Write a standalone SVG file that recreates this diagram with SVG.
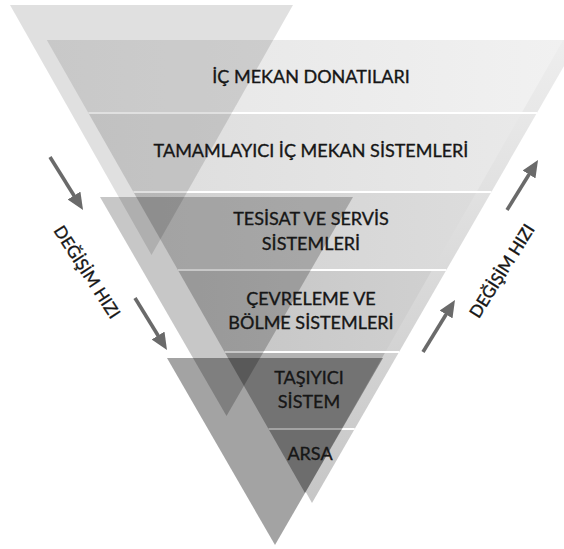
<svg xmlns="http://www.w3.org/2000/svg" width="564" height="549" viewBox="0 0 564 549">
<style>
  .lbl { font-family: Lato, "Open Sans", "DejaVu Sans", sans-serif; font-size: 18px; fill: #161616; stroke: #161616; stroke-width: 0.35; text-anchor: middle; }
  .side { font-family: Lato, "Open Sans", "DejaVu Sans", sans-serif; font-size: 17px; fill: #161616; stroke: #161616; stroke-width: 0.35; text-anchor: middle; }
  .sep { stroke: #ffffff; stroke-width: 2.2; }
  .arr { stroke: #6a6a6a; stroke-width: 3.6; fill: none; marker-end: url(#head); }
</style>
<defs>
  <marker id="head" markerUnits="userSpaceOnUse" viewBox="0 0 17 15" refX="9" refY="7.5" markerWidth="17" markerHeight="15" orient="auto">
    <path d="M0,0 L17,7.5 L0,15 z" fill="#6a6a6a"/>
  </marker>
  <linearGradient id="gR" x1="0" y1="0" x2="0" y2="1">
    <stop offset="0" stop-color="#eeeeee"/><stop offset="1" stop-color="#c6c6c6"/>
  </linearGradient>
  <linearGradient id="g1" x1="0" y1="0" x2="1" y2="0"><stop offset="0" stop-color="#e4e4e4"/><stop offset="1" stop-color="#f1f1f1"/></linearGradient>
  <linearGradient id="g2" x1="0" y1="0" x2="1" y2="0"><stop offset="0" stop-color="#dcdcdc"/><stop offset="1" stop-color="#e9e9e9"/></linearGradient>
  <linearGradient id="g3" x1="0" y1="0" x2="1" y2="0"><stop offset="0" stop-color="#d0d0d0"/><stop offset="1" stop-color="#dcdcdc"/></linearGradient>
  <linearGradient id="g4" x1="0" y1="0" x2="1" y2="0"><stop offset="0" stop-color="#c4c4c4"/><stop offset="1" stop-color="#d0d0d0"/></linearGradient>
</defs>
<rect width="564" height="549" fill="#ffffff"/>

<g id="back-triangle">
  <polygon points="52,40 579,40 312,503" fill="url(#gR)"/>
</g>

<g id="bands">
  <polygon id="band1" points="46.8,40 563.2,40 521.6,113 88.4,113" fill="url(#g1)"/>
  <polygon id="band2" points="88.4,113 521.6,113 476.6,192 133.4,192" fill="url(#g2)"/>
  <polygon id="band3" points="133.4,192 476.6,192 432.1,270 177.9,270" fill="url(#g3)"/>
  <polygon id="band4" points="177.9,270 432.1,270 385.4,352 224.6,352" fill="url(#g4)"/>
  <polygon id="band5" points="224.6,352 385.4,352 341.5,429 268.5,429" fill="#b4b4b4"/>
  <polygon id="band6" points="268.5,429 341.5,429 305,493" fill="#ababab"/>
  <line class="sep" x1="88.4" y1="113" x2="537" y2="113"/>
  <line class="sep" x1="133.4" y1="192" x2="491.4" y2="192"/>
  <line class="sep" x1="177.9" y1="270" x2="446.4" y2="270"/>
  <line class="sep" x1="224.6" y1="352" x2="399.1" y2="352"/>
  <line class="sep" x1="268.5" y1="429" x2="354.7" y2="429"/>
</g>

<g id="overlay-triangles">
  <polygon id="tri-a" points="10,5 293,5 151.5,255" fill="#000000" fill-opacity="0.12"/>
  <polygon id="tri-c" points="100,197 353,197 226.5,416" fill="#000000" fill-opacity="0.22"/>
  <polygon id="tri-d" points="167,358 383,358 275,545" fill="#000000" fill-opacity="0.36"/>
</g>

<g id="labels">
  <text class="lbl" x="311" y="83">İÇ MEKAN DONATILARI</text>
  <text class="lbl" x="311" y="157">TAMAMLAYICI İÇ MEKAN SİSTEMLERİ</text>
  <text class="lbl" x="311" y="225">TESİSAT VE SERVİS</text>
  <text class="lbl" x="311" y="250">SİSTEMLERİ</text>
  <text class="lbl" x="311" y="305">ÇEVRELEME VE</text>
  <text class="lbl" x="311" y="329">BÖLME SİSTEMLERİ</text>
  <text class="lbl" x="309" y="384">TAŞIYICI</text>
  <text class="lbl" x="309" y="408">SİSTEM</text>
  <text class="lbl" x="310" y="460">ARSA</text>
</g>

<g id="connectors">
  <line class="arr" x1="50" y1="157" x2="78.8" y2="203.2"/>
  <line class="arr" x1="135" y1="298" x2="162.8" y2="343.2"/>
  <line class="arr" x1="507" y1="210" x2="533.8" y2="166.8"/>
  <line class="arr" x1="423" y1="352" x2="450.8" y2="306.8"/>
</g>

<g id="side-labels">
  <text class="side" transform="translate(87,272) rotate(57)" y="6">DEĞİŞİM HIZI</text>
  <text class="side" transform="translate(502,271) rotate(-58)" y="6">DEĞİŞİM HIZI</text>
</g>
</svg>
